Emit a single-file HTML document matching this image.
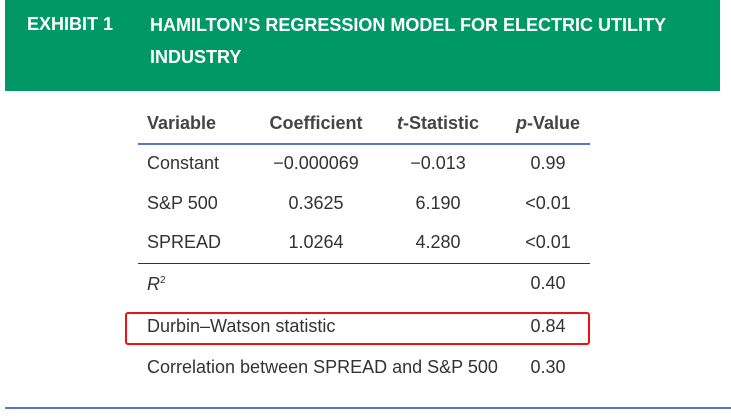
<!DOCTYPE html>
<html><head><meta charset="utf-8"><style>
body{margin:0;width:731px;height:418px;background:#fff;position:relative;overflow:hidden;font-family:"Liberation Sans",Arial,sans-serif;}
.a{position:absolute;white-space:nowrap;}
.hd{color:#fff;font-weight:bold;font-size:18px;}
.th{font-weight:bold;font-size:18px;color:#444;transform:translateX(-50%);}
.c{font-size:18px;color:#333;transform:translateX(-50%);}
.l{font-size:18px;color:#333;}
</style></head><body>
<div class="a" style="left:5px;top:0;width:715px;height:91px;background:#009966"></div>
<div class="a hd" style="left:27px;top:14px">EXHIBIT 1</div>
<div class="a hd" style="left:150px;top:9px;line-height:32px">HAMILTON’S REGRESSION MODEL FOR ELECTRIC UTILITY<br>INDUSTRY</div>

<div class="a th" style="left:147px;top:113px;transform:none">Variable</div>
<div class="a th" style="left:316px;top:113px">Coefficient</div>
<div class="a th" style="left:438px;top:113px"><i>t</i>-Statistic</div>
<div class="a th" style="left:548px;top:113px"><i>p</i>-Value</div>
<div class="a" style="left:138px;top:143px;width:452px;height:2px;background:#5577cc"></div>

<div class="a l" style="left:147px;top:153px">Constant</div>
<div class="a c" style="left:316px;top:153px">−0.000069</div>
<div class="a c" style="left:438px;top:153px">−0.013</div>
<div class="a c" style="left:548px;top:153px">0.99</div>

<div class="a l" style="left:147px;top:193px">S&amp;P 500</div>
<div class="a c" style="left:316px;top:193px">0.3625</div>
<div class="a c" style="left:438px;top:193px">6.190</div>
<div class="a c" style="left:548px;top:193px">&lt;0.01</div>

<div class="a l" style="left:147px;top:232px">SPREAD</div>
<div class="a c" style="left:316px;top:232px">1.0264</div>
<div class="a c" style="left:438px;top:232px">4.280</div>
<div class="a c" style="left:548px;top:232px">&lt;0.01</div>
<div class="a" style="left:138px;top:263px;width:452px;height:1px;background:#333"></div>

<div class="a l" style="left:147px;top:274px"><i>R</i><sup style="font-size:10px">2</sup></div>
<div class="a c" style="left:548px;top:273px">0.40</div>

<div class="a" style="left:125px;top:312px;width:465px;height:33px;border:2px solid #ee1111;border-radius:3px;box-sizing:border-box"></div>
<div class="a l" style="left:147px;top:316px">Durbin–Watson statistic</div>
<div class="a c" style="left:548px;top:316px">0.84</div>

<div class="a l" style="left:147px;top:357px">Correlation between SPREAD and S&amp;P 500</div>
<div class="a c" style="left:548px;top:357px">0.30</div>

<div class="a" style="left:5px;top:407px;width:726px;height:2px;background:#5577cc"></div>
</body></html>
